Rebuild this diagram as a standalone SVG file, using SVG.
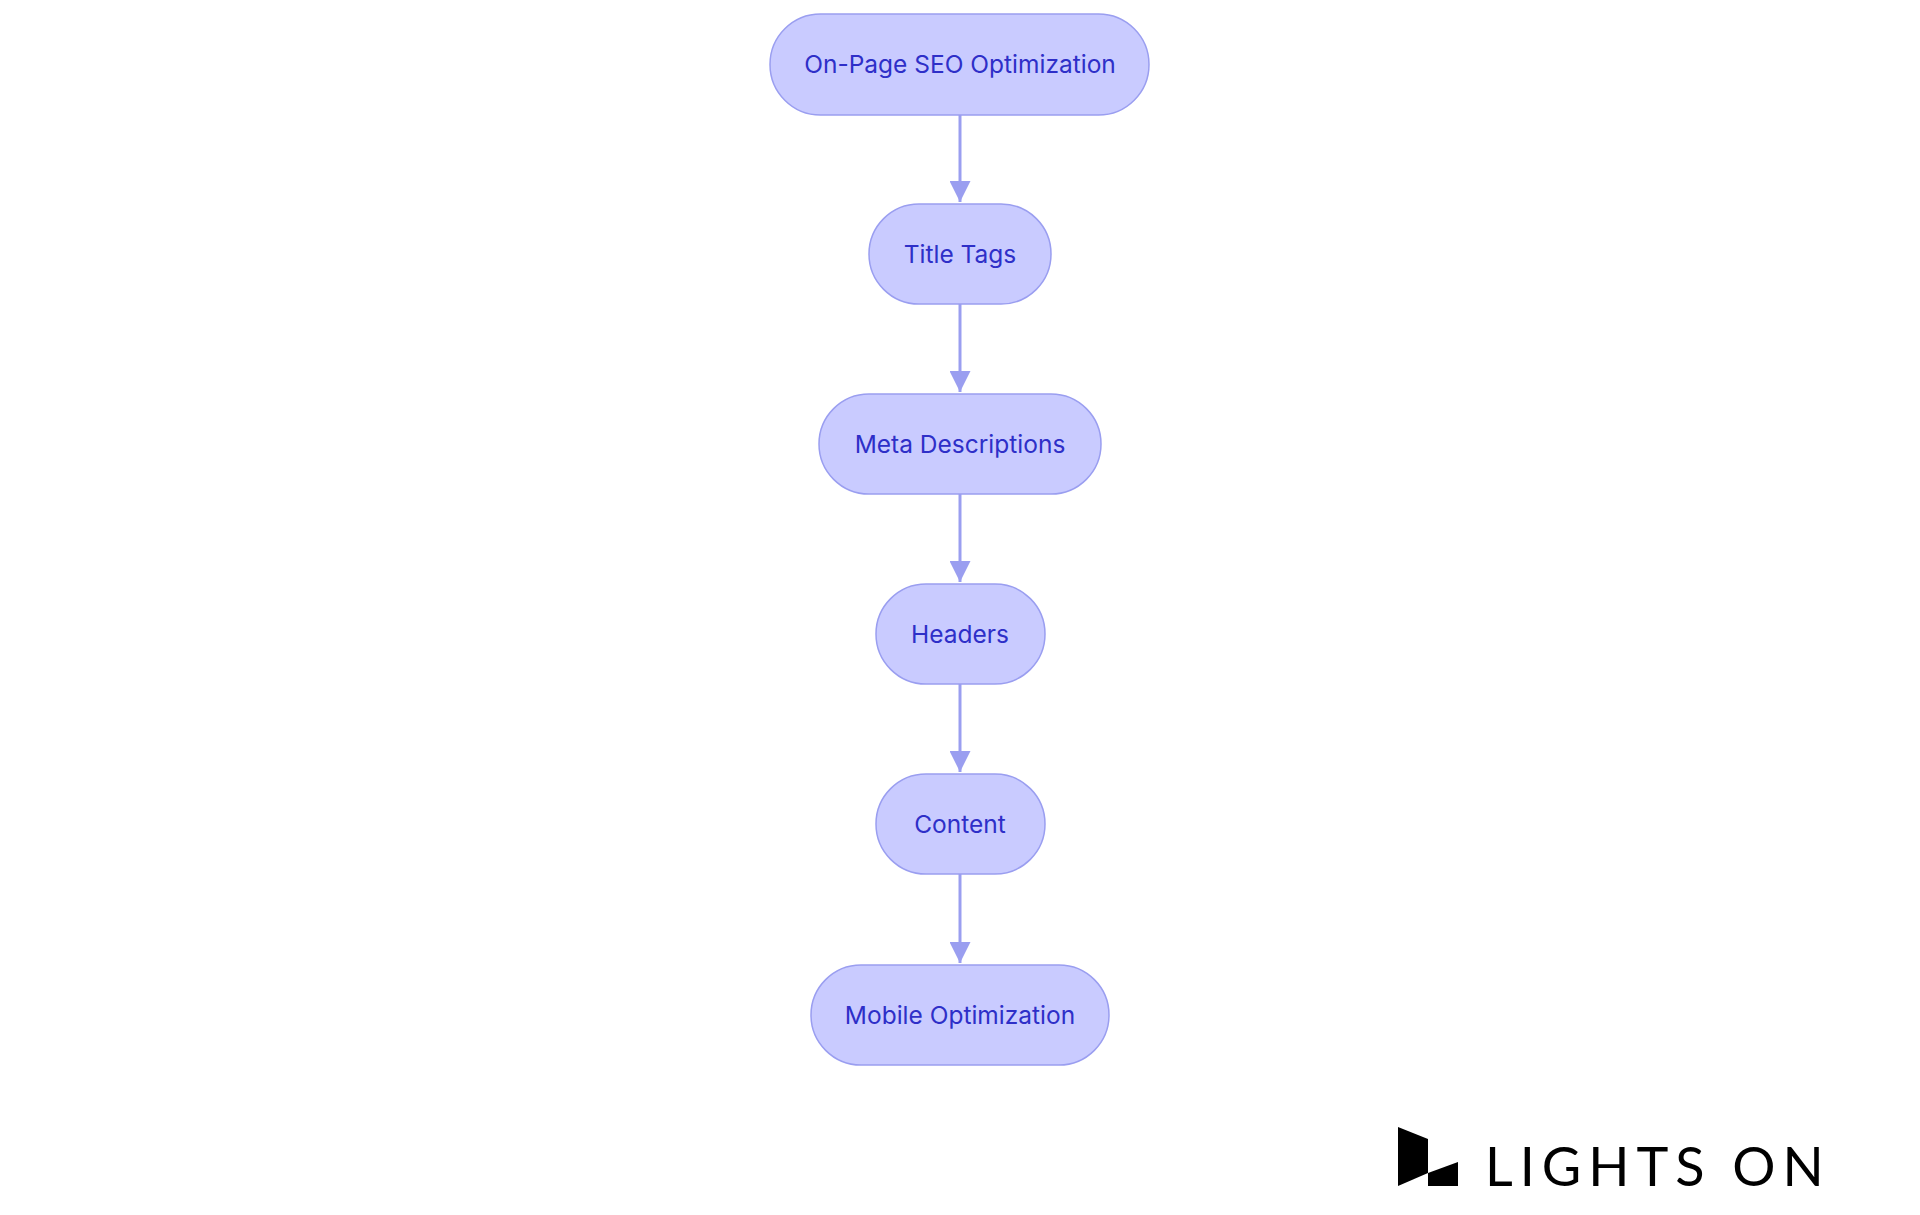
<svg xmlns="http://www.w3.org/2000/svg" width="1920" height="1215" viewBox="0 0 1920 1215">
<style>
.n rect{fill:#c9cbff;stroke:#9a9ef0;stroke-width:1.5}
.n text{font-family:Inter,"Noto Sans",sans-serif;font-size:24.5px;fill:#2e2fc8;text-anchor:middle;dominant-baseline:central}
.e{stroke:#9a9ef0;stroke-width:3;fill:none;marker-end:url(#a)}
</style>
<defs><marker id="a" viewBox="0 0 10 10" refX="10" refY="5" markerWidth="7" markerHeight="7" markerUnits="strokeWidth" orient="auto"><path d="M0,0L10,5L0,10z" fill="#9a9ef0"/></marker></defs>
<rect width="1920" height="1215" fill="#fff"/>
<g id="edges">
<line class="e" x1="960" y1="115" x2="960" y2="202"/>
<line class="e" x1="960" y1="304" x2="960" y2="392"/>
<line class="e" x1="960" y1="494" x2="960" y2="582"/>
<line class="e" x1="960" y1="684" x2="960" y2="772"/>
<line class="e" x1="960" y1="874" x2="960" y2="963"/>
</g>
<g id="n1" class="n"><rect x="770" y="14" width="379" height="101" rx="50.5"/><text x="960" y="64">On-Page SEO Optimization</text></g>
<g id="n2" class="n"><rect x="869" y="204" width="182" height="100" rx="50"/><text x="960" y="254">Title Tags</text></g>
<g id="n3" class="n"><rect x="819" y="394" width="282" height="100" rx="50"/><text x="960" y="444">Meta Descriptions</text></g>
<g id="n4" class="n"><rect x="876" y="584" width="169" height="100" rx="50"/><text x="960" y="634">Headers</text></g>
<g id="n5" class="n"><rect x="876" y="774" width="169" height="100" rx="50"/><text x="960" y="824">Content</text></g>
<g id="n6" class="n"><rect x="811" y="965" width="298" height="100" rx="50"/><text x="960" y="1015">Mobile Optimization</text></g>
<g id="logo">
<polygon points="1398,1127 1428,1139 1428,1173 1398,1186" fill="#000"/>
<polygon points="1428,1173 1458,1162 1458,1186 1428,1186" fill="#000"/>
<text x="1485" y="1186" font-family="Lato,'Noto Sans',sans-serif" font-size="54" letter-spacing="7" fill="#000">LIGHTS ON</text>
</g>
</svg>
